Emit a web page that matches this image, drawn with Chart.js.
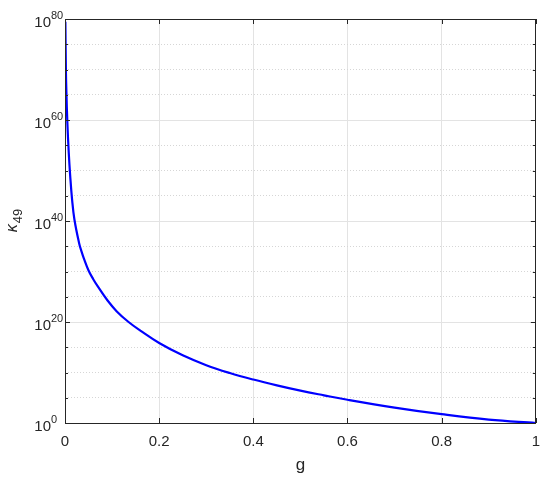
<!DOCTYPE html>
<html>
<head>
<title>kappa 49 vs g</title>
<script src="https://cdn.jsdelivr.net/npm/chart.js@4.4.1/dist/chart.umd.min.js"></script>
<style>
  body { margin: 0; background-color: #ffffff; }
  #wrap { width: 550px; height: 478px; position: relative; }
</style>
</head>
<body>
<div id="wrap"><canvas id="plot"></canvas></div>

<script>
// values
var gValues = [0.0008, 0.002, 0.003, 0.005, 0.008, 0.011, 0.015, 0.02, 0.03, 0.035, 0.04, 0.05, 0.06, 0.07, 0.09, 0.11, 0.135, 0.16, 0.2, 0.25, 0.3, 0.35, 0.4, 0.45, 0.5, 0.55, 0.6, 0.7, 0.8, 0.9, 1];
var kappaValues = [3e79, 3e69, 3e65, 3e59, 3e53, 1e49, 2e44, 2e40, 4e35, 1e34, 4e32, 1.6e30, 3e28, 1e27, 2e24, 1.25e22, 1e20, 2e18, 7e15, 2.5e13, 2.8e11, 8e9, 4e8, 2.8e7, 2.5e6, 3e5, 4e4, 1.15e3, 55, 4.5, 1];

var xTicks = [0, 0.2, 0.4, 0.6, 0.8, 1];
var yGridExps = [0, 5, 10, 15, 20, 25, 30, 35, 40, 45, 50, 55, 60, 65, 70, 75, 80];
var yLabelExps = [0, 20, 40, 60, 80];

var TXT = '#262626';
var FONT = '"Liberation Sans", Arial, sans-serif';

var points = [];
for (var i = 0; i < gValues.length; i++) points.push({x: gValues[i], y: kappaValues[i]});

// box, inward ticks, superscript labels, y title
var decorPlugin = {
  id: 'decor',
  afterDraw: function(chart) {
    var c = chart.ctx, a = chart.chartArea;
    var xs = chart.scales.x, ys = chart.scales.y;
    c.save();
    c.strokeStyle = TXT;
    c.lineWidth = 1;
    c.strokeRect(Math.round(a.left) + 0.5, Math.round(a.top) + 0.5,
                 Math.round(a.right - a.left) - 1, Math.round(a.bottom - a.top));
    c.beginPath();
    xTicks.forEach(function(v) {
      var px = Math.round(xs.getPixelForValue(v)) + 0.5;
      c.moveTo(px, a.bottom); c.lineTo(px, a.bottom - 5);
      c.moveTo(px, a.top); c.lineTo(px, a.top + 5);
    });
    yGridExps.forEach(function(e) {
      var py = Math.round(ys.getPixelForValue(Math.pow(10, e))) + 0.5;
      var len = (e % 20 === 0) ? 5 : 3;
      c.moveTo(a.left, py); c.lineTo(a.left + len, py);
      c.moveTo(a.right, py); c.lineTo(a.right - len, py);
    });
    c.stroke();

    // y tick labels 10^n
    c.fillStyle = TXT;
    yLabelExps.forEach(function(e) {
      var py = ys.getPixelForValue(Math.pow(10, e));
      c.font = '15px ' + FONT;
      c.textAlign = 'right';
      c.textBaseline = 'middle';
      c.fillText('10', 51, py + 4);
      c.font = '11px ' + FONT;
      c.textAlign = 'left';
      c.fillText(String(e), 51, py - 3);
    });

    // y axis title kappa_49
    var cy = (a.top + a.bottom) / 2;
    c.translate(17, cy);
    c.rotate(-Math.PI / 2);
    c.font = 'italic 16px ' + FONT;
    var kw = c.measureText('\u03BA').width;
    c.font = '13px ' + FONT;
    var sw = c.measureText('49').width;
    var x0 = -(kw + sw) / 2;
    c.textAlign = 'left';
    c.textBaseline = 'alphabetic';
    c.font = 'italic 16px ' + FONT;
    c.fillText('\u03BA', x0, 0);
    c.font = '13px ' + FONT;
    c.fillText('49', x0 + kw + 1, 5);
    c.restore();
  }
};

var ctx = document.getElementById('plot').getContext('2d');
var chart = new Chart(ctx, {
  type: 'line',
  data: {
    datasets: [{
      label: 'kappa49',
      data: points,
      borderColor: '#0000ff',
      backgroundColor: 'transparent',
      borderWidth: 2.2,
      pointRadius: 0,
      tension: 0.4,
      fill: false
    }]
  },
  options: {
    responsive: true,
    maintainAspectRatio: false,
    animation: false,
    layout: { padding: { left: 0, right: 10, top: 19, bottom: 0 } },
    plugins: { legend: { display: false }, tooltip: { enabled: false } },
    scales: {
      x: {
        type: 'linear',
        min: 0, max: 1,
        afterBuildTicks: function(scale) {
          scale.ticks = xTicks.map(function(v) { return {value: v}; });
        },
        afterFit: function(scale) { scale.height = 55; },
        grid: { color: '#e3e3e3', drawTicks: false },
        border: { display: false },
        ticks: {
          color: TXT, padding: 10,
          font: { family: FONT, size: 15 },
          maxRotation: 0,
          callback: function(v) { return String(v); }
        },
        title: {
          display: true, text: 'g', color: TXT,
          font: { family: FONT, size: 17 },
          padding: { top: 0, bottom: 2 }
        }
      },
      y: {
        type: 'logarithmic',
        min: 1, max: 1e80,
        afterBuildTicks: function(scale) {
          scale.ticks = yGridExps.map(function(e) { return {value: Math.pow(10, e), exp: e}; });
        },
        afterFit: function(scale) { scale.width = 65; },
        grid: {
          drawTicks: false,
          color: function(c) {
            var t = c.tick;
            return (t && t.exp % 20 === 0) ? '#e3e3e3' : '#d6d6d6';
          }
        },
        border: {
          display: false,
          dash: function(c) {
            var t = c.tick;
            return (t && t.exp % 20 === 0) ? [] : [1, 2];
          }
        },
        ticks: { display: false }
      }
    }
  },
  plugins: [decorPlugin]
});
</script>
</body>
</html>
